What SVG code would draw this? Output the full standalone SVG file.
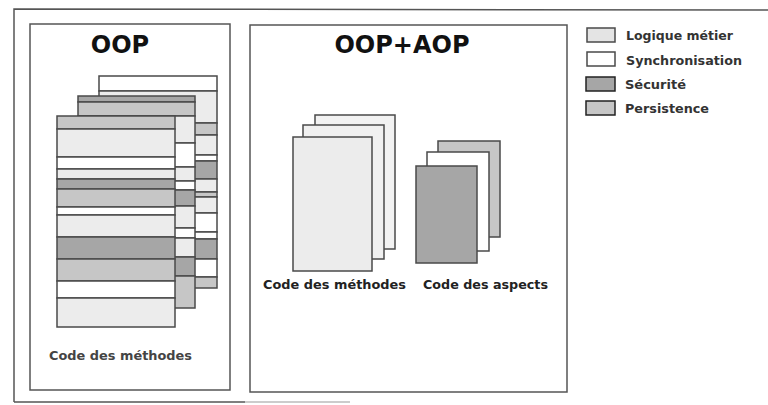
<svg xmlns="http://www.w3.org/2000/svg" width="768" height="405" viewBox="0 0 768 405">
<defs>
<style>
.L{fill:#ececec;stroke:#4a4a4a;stroke-width:1.5}
.S{fill:#ffffff;stroke:#4a4a4a;stroke-width:1.5}
.X{fill:#a6a6a6;stroke:#4a4a4a;stroke-width:1.5}
.P{fill:#c6c6c6;stroke:#4a4a4a;stroke-width:1.5}
.frame{fill:none;stroke:#555;stroke-width:1.5}
.title{font-family:"DejaVu Sans",sans-serif;font-weight:bold;font-size:24px;fill:#111;text-anchor:middle}
.lbl{font-family:"DejaVu Sans",sans-serif;font-weight:bold;font-size:12.5px;fill:#222}
.lbl2{font-family:"DejaVu Sans",sans-serif;font-weight:bold;font-size:12.5px;fill:#444}
.leg{font-family:"DejaVu Sans",sans-serif;font-weight:bold;font-size:11.5px;fill:#333}
</style>
</defs>
<rect width="768" height="405" fill="#ffffff"/>
<g id="outer-frame">
<path d="M14,402 L14,9 L768,10" class="frame"/>
<path d="M14,402 L245,402" stroke="#555" stroke-width="1.5"/>
<path d="M245,402 L350,402" stroke="#bbb" stroke-width="1.5"/>
</g>
<g id="oop-panel">
<rect x="30" y="24" width="200" height="366" class="frame"/>
<text x="120" y="53" class="title">OOP</text>
<!-- back sheet -->
<g id="oop-sheet3">
<rect x="99" y="76" width="118" height="15" class="S"/>
<rect x="99" y="91" width="118" height="32" class="L"/>
<rect x="99" y="123" width="118" height="12" class="P"/>
<rect x="99" y="135" width="118" height="20" class="L"/>
<rect x="99" y="155" width="118" height="6" class="S"/>
<rect x="99" y="161" width="118" height="18" class="X"/>
<rect x="99" y="179" width="118" height="13" class="L"/>
<rect x="99" y="192" width="118" height="5" class="P"/>
<rect x="99" y="197" width="118" height="16" class="L"/>
<rect x="99" y="213" width="118" height="19" class="S"/>
<rect x="99" y="232" width="118" height="7" class="S"/>
<rect x="99" y="239" width="118" height="20" class="X"/>
<rect x="99" y="259" width="118" height="18" class="S"/>
<rect x="99" y="277" width="118" height="11" class="P"/>
</g>
<g id="oop-sheet2">
<rect x="78" y="96" width="117" height="6" class="X"/>
<rect x="78" y="102" width="117" height="14" class="P"/>
<rect x="78" y="116" width="117" height="27" class="L"/>
<rect x="78" y="143" width="117" height="24" class="S"/>
<rect x="78" y="167" width="117" height="14" class="L"/>
<rect x="78" y="181" width="117" height="9" class="S"/>
<rect x="78" y="190" width="117" height="16" class="X"/>
<rect x="78" y="206" width="117" height="22" class="L"/>
<rect x="78" y="228" width="117" height="10" class="S"/>
<rect x="78" y="238" width="117" height="19" class="L"/>
<rect x="78" y="257" width="117" height="19" class="X"/>
<rect x="78" y="276" width="117" height="32" class="P"/>
</g>
<g id="oop-sheet1">
<rect x="57" y="116" width="118" height="13" class="P"/>
<rect x="57" y="129" width="118" height="28" class="L"/>
<rect x="57" y="157" width="118" height="12" class="S"/>
<rect x="57" y="169" width="118" height="10" class="L"/>
<rect x="57" y="179" width="118" height="10" class="X"/>
<rect x="57" y="189" width="118" height="18" class="P"/>
<rect x="57" y="207" width="118" height="8" class="S"/>
<rect x="57" y="215" width="118" height="22" class="L"/>
<rect x="57" y="237" width="118" height="22" class="X"/>
<rect x="57" y="259" width="118" height="22" class="P"/>
<rect x="57" y="281" width="118" height="17" class="S"/>
<rect x="57" y="298" width="118" height="29" class="L"/>
</g>
<text x="49" y="360" class="lbl2" textLength="143" lengthAdjust="spacingAndGlyphs">Code des méthodes</text>
</g>
<g id="aop-panel">
<rect x="250" y="25" width="317" height="367" class="frame"/>
<text x="402" y="53" class="title">OOP+AOP</text>
<g id="methods-stack">
<rect x="315" y="115" width="80" height="134" class="L" style="fill:#f2f2f2"/>
<rect x="303" y="125" width="81" height="134" class="L" style="fill:#f0f0f0"/>
<rect x="293" y="137" width="79" height="134" class="L"/>
</g>
<g id="aspects-stack">
<rect x="438" y="141" width="62" height="96" class="P"/>
<rect x="427" y="152" width="62" height="99" class="S"/>
<rect x="416" y="166" width="61" height="97" class="X"/>
</g>
<text x="263" y="289" class="lbl" textLength="143" lengthAdjust="spacingAndGlyphs">Code des méthodes</text>
<text x="423" y="289" class="lbl" textLength="125" lengthAdjust="spacingAndGlyphs">Code des aspects</text>
</g>
<g id="legend">
<g id="leg-logique"><rect x="587" y="28" width="28" height="14" class="L" style="fill:#e4e4e4"/><text x="626" y="40" class="leg" textLength="107" lengthAdjust="spacingAndGlyphs">Logique métier</text></g>
<g id="leg-sync"><rect x="587" y="52" width="28" height="14" class="S"/><text x="626" y="65" class="leg" textLength="116" lengthAdjust="spacingAndGlyphs">Synchronisation</text></g>
<g id="leg-secu"><rect x="586" y="77" width="29" height="14" class="X" style="stroke:#222"/><text x="625" y="89" class="leg" textLength="61" lengthAdjust="spacingAndGlyphs">Sécurité</text></g>
<g id="leg-pers"><rect x="586" y="101" width="29" height="14" class="P" style="stroke:#222"/><text x="625" y="113" class="leg" textLength="84" lengthAdjust="spacingAndGlyphs">Persistence</text></g>
</g>
<g id="connectors"></g>
</svg>
